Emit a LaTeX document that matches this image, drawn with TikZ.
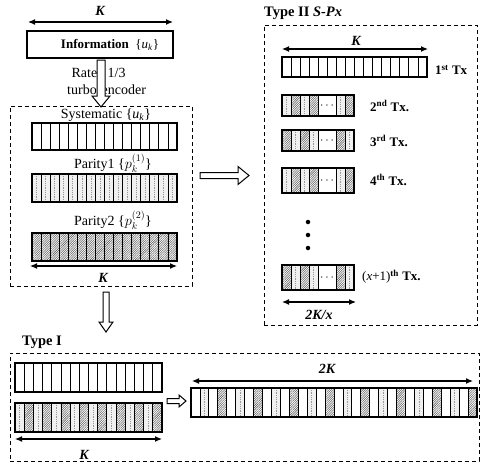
\documentclass[tikz,border=0pt]{standalone}
\usepackage{fontspec}
\setmainfont{Liberation Serif}
\usetikzlibrary{arrows.meta,patterns.meta,calc}

\newcommand\pxcells[4]{\draw[cellline] (#1,#2) rectangle (#3,#4);}
\newcommand\pxcella[4]{\fill[dotfill] (#1,#2) rectangle (#3,#4);
  \pgfmathsetmacro\pxmid{(#1+#3)/2}%
  \draw[dotline] (\pxmid,#2) -- (\pxmid,#4);
  \draw[cellline] (#1,#2) rectangle (#3,#4);}
\newcommand\pxcellb[4]{\fill[hatchfill] (#1,#2) rectangle (#3,#4);
  \draw[cellline] (#1,#2) rectangle (#3,#4);}
\newcommand\pxbar[5]{\foreach \ctype [count=\ci from 0] in {#5}{%
  \pgfmathsetmacro\xa{#1+\ci*#4}\pgfmathsetmacro\xb{#1+(\ci+1)*#4}%
  \csname pxcell\ctype\endcsname{\xa}{#2}{\xb}{#3}}}
% hollow arrows: #1 start, #2 tip, #3 half shaft, #4 half head, #5 head length
\newcommand\vhollow[5]{\draw[hollow] ($(#1)+(-#3,0)$) -- ($(#2)+(-#3,-#5)$) -- ($(#2)+(-#4,-#5)$) -- (#2) -- ($(#2)+(#4,-#5)$) -- ($(#2)+(#3,-#5)$) -- ($(#1)+(#3,0)$) -- cycle;}
\newcommand\hhollow[5]{\draw[hollow] ($(#1)+(0,-#3)$) -- ($(#2)+(-#5,-#3)$) -- ($(#2)+(-#5,-#4)$) -- (#2) -- ($(#2)+(-#5,#4)$) -- ($(#2)+(-#5,#3)$) -- ($(#1)+(0,#3)$) -- cycle;}
% small Tx bar: #1 y0, #2 y1, #3 first four types, #4 last two types
\newcommand\txbar[4]{\pxbar{282}{#1}{#2}{9}{#3}
  \pxcells{318}{#1}{336}{#2}
  \pxbar{336}{#1}{#2}{9}{#4}}

\begin{document}
\begin{tikzpicture}[x=1pt,y=-1pt,
  cellline/.style={draw=black,line width=0.8pt},
  dotfill/.style={fill=gray!12},
  dotline/.style={draw=gray!80,line width=0.6pt,dash pattern=on 0.8pt off 1pt},
  hatchfill/.style={pattern={Lines[angle=45,distance=1.6pt,line width=0.55pt]},pattern color=gray!75!black},
  frame/.style={draw=black,line width=1.2pt,inner sep=0pt},
  dashbox/.style={draw=black,line width=1pt,dash pattern=on 4pt off 3pt,inner sep=0pt},
  hollow/.style={draw=black,line width=1pt,fill=white},
  dimarrow/.style={line width=1.2pt,{Latex[length=7pt,width=6pt]}-{Latex[length=7pt,width=6pt]}},
  txt/.style={font=\fontsize{14}{16}\selectfont,inner sep=0pt},
  boldlab/.style={font=\fontsize{13}{15}\selectfont\bfseries,inner sep=0pt},
  titlelab/.style={font=\fontsize{14.5}{16}\selectfont\bfseries,inner sep=0pt},
  klabel/.style={font=\fontsize{14}{16}\selectfont\bfseries\itshape,inner sep=0pt},
  ell/.style={font=\fontsize{12}{12}\selectfont,inner sep=0pt},
  vdot/.style={circle,fill=black,inner sep=0pt,minimum size=4.5pt}]
\useasboundingbox (0,0) rectangle (481,463);

% ---------- top: information ----------
\coordinate (kTl) at (28,22); \coordinate (kTr) at (173,22);
\draw[dimarrow] (kTl) -- (kTr);
\node[klabel] (kT) at (100,11) {K};
\node[frame,minimum width=146pt,minimum height=27pt] (info) at (100,44.5) {};
\node[boldlab] (infot) at (110,45) {Information\ \ {\mdseries\{\textit{u}\textsubscript{\textit{k}}\}}};

\node[txt,anchor=east] (rate) at (97.5,73) {Rate};
\node[txt,anchor=west] (third) at (107.5,73) {1/3};
\node[txt,anchor=east] (turbo) at (97,90) {turbo};
\node[txt,anchor=west] (enc) at (101.5,90) {encoder};
\coordinate (ea1) at (101,60); \coordinate (ea2) at (101,107);
\vhollow{ea1}{ea2}{4}{9}{11}

% ---------- left dashed box ----------
\node[dashbox,minimum width=182pt,minimum height=180pt] (leftbox) at (101,196) {};
\node[txt] (syslab) at (106,115) {Systematic \{\textit{u}\textsubscript{\textit{k}}\}};
\pxbar{32}{123}{150}{9.0625}{s,s,s,s,s,s,s,s,s,s,s,s,s,s,s,s}
\node[frame,minimum width=145pt,minimum height=27pt] (sysbar) at (104.5,136.5) {};

\node[txt] (p1lab) at (113,163) {Parity1 \{$p_k^{(1)}$\}};
\pxbar{32}{174}{202}{9.0625}{a,a,a,a,a,a,a,a,a,a,a,a,a,a,a,a}
\node[frame,minimum width=145pt,minimum height=28pt] (p1bar) at (104.5,188) {};

\node[txt] (p2lab) at (113,220) {Parity2 \{$p_k^{(2)}$\}};
\pxbar{32}{233}{261}{9.0625}{b,b,b,b,b,b,b,b,b,b,b,b,b,b,b,b}
\node[frame,minimum width=145pt,minimum height=28pt] (p2bar) at (104.5,247) {};

\coordinate (kLl) at (30,266); \coordinate (kLr) at (177,266);
\draw[dimarrow] (kLl) -- (kLr);
\node[klabel] (kL) at (103,278) {K};

% ---------- arrows out of left box ----------
\coordinate (ra1) at (200,175.5); \coordinate (ra2) at (249,175.5);
\hhollow{ra1}{ra2}{3}{9}{11}
\coordinate (da1) at (106,292); \coordinate (da2) at (106,332);
\vhollow{da1}{da2}{3}{7}{10}

% ---------- right dashed box: Type II S-Px ----------
\node[titlelab,anchor=west] (t2) at (264,13) {Type II \textit{S-Px}};
\node[dashbox,minimum width=213pt,minimum height=300pt] (rightbox) at (370.5,175) {};
\coordinate (kRl) at (282,49); \coordinate (kRr) at (428,49);
\draw[dimarrow] (kRl) -- (kRr);
\node[klabel] (kR) at (356,41) {K};

\pxbar{282}{57}{77}{9.0625}{s,s,s,s,s,s,s,s,s,s,s,s,s,s,s,s}
\node[frame,minimum width=145pt,minimum height=20pt] (tx1) at (354.5,67) {};
\node[boldlab,anchor=west] (tx1l) at (435,70) {1\textsuperscript{st} Tx};

\txbar{95}{116}{a,b,a,b}{a,b}
\node[frame,minimum width=72pt,minimum height=21pt] (tx2) at (318,105.5) {};
\node[ell] (dd2) at (327,106) {$\cdots$};
\node[boldlab,anchor=west] (tx2l) at (370,106) {2\textsuperscript{nd} Tx.};

\txbar{130}{151}{b,a,b,a}{b,a}
\node[frame,minimum width=72pt,minimum height=21pt] (tx3) at (318,140.5) {};
\node[ell] (dd3) at (327,141) {$\cdots$};
\node[boldlab,anchor=west] (tx3l) at (370,141) {3\textsuperscript{rd} Tx.};

\txbar{168}{193}{a,b,a,b}{a,b}
\node[frame,minimum width=72pt,minimum height=25pt] (tx4) at (318,180.5) {};
\node[ell] (dd4) at (327,181) {$\cdots$};
\node[boldlab,anchor=west] (tx4l) at (370,180) {4\textsuperscript{th} Tx.};

\node[vdot] (v1) at (308,222) {};
\node[vdot] (v2) at (308,235) {};
\node[vdot] (v3) at (308,248) {};

\txbar{265}{290}{b,a,b,a}{b,a}
\node[frame,minimum width=72pt,minimum height=25pt] (txn) at (318,277.5) {};
\node[ell] (ddn) at (327,278) {$\cdots$};
\node[boldlab,anchor=west] (txnl) at (362,277) {{\mdseries(\textit{x}+1)}\textsuperscript{th} Tx.};

\coordinate (kxl) at (282,302); \coordinate (kxr) at (356,302);
\draw[dimarrow] (kxl) -- (kxr);
\node[klabel] (kx) at (319,315) {2K/x};

% ---------- bottom dashed box: Type I ----------
\node[titlelab,anchor=west] (t1) at (22,342) {Type I};
\node[dashbox,minimum width=469pt,minimum height=108pt] (botbox) at (244.5,407) {};

\pxbar{15}{363}{392}{9.1875}{s,s,s,s,s,s,s,s,s,s,s,s,s,s,s,s}
\node[frame,minimum width=147pt,minimum height=29pt] (b1) at (88.5,377.5) {};
\pxbar{15}{403}{432}{9.1875}{a,b,a,b,a,b,a,b,a,b,a,b,a,b,a,b}
\node[frame,minimum width=147pt,minimum height=29pt] (b2) at (88.5,417.5) {};
\coordinate (kBl) at (15,439); \coordinate (kBr) at (162,439);
\draw[dimarrow] (kBl) -- (kBr);
\node[klabel] (kB) at (84,455) {K};

\coordinate (sa1) at (167,401); \coordinate (sa2) at (186,401);
\hhollow{sa1}{sa2}{2.5}{6}{7}

\pxbar{191}{388}{417}{8.9375}{s,a,s,b,s,a,s,b,s,a,s,b,s,a,s,b,s,a,s,b,s,a,s,b,s,a,s,b,s,a,s,b}
\node[frame,minimum width=35.75pt,minimum height=29pt] (g1) at (208.875,402.5) {};
\node[frame,minimum width=214.5pt,minimum height=29pt] (g2) at (334,402.5) {};
\node[frame,minimum width=35.75pt,minimum height=29pt] (g3) at (459.125,402.5) {};
\coordinate (k2l) at (192,381); \coordinate (k2r) at (473,381);
\draw[dimarrow] (k2l) -- (k2r);
\node[klabel] (k2) at (327,369) {2K};
\end{tikzpicture}
\end{document}
